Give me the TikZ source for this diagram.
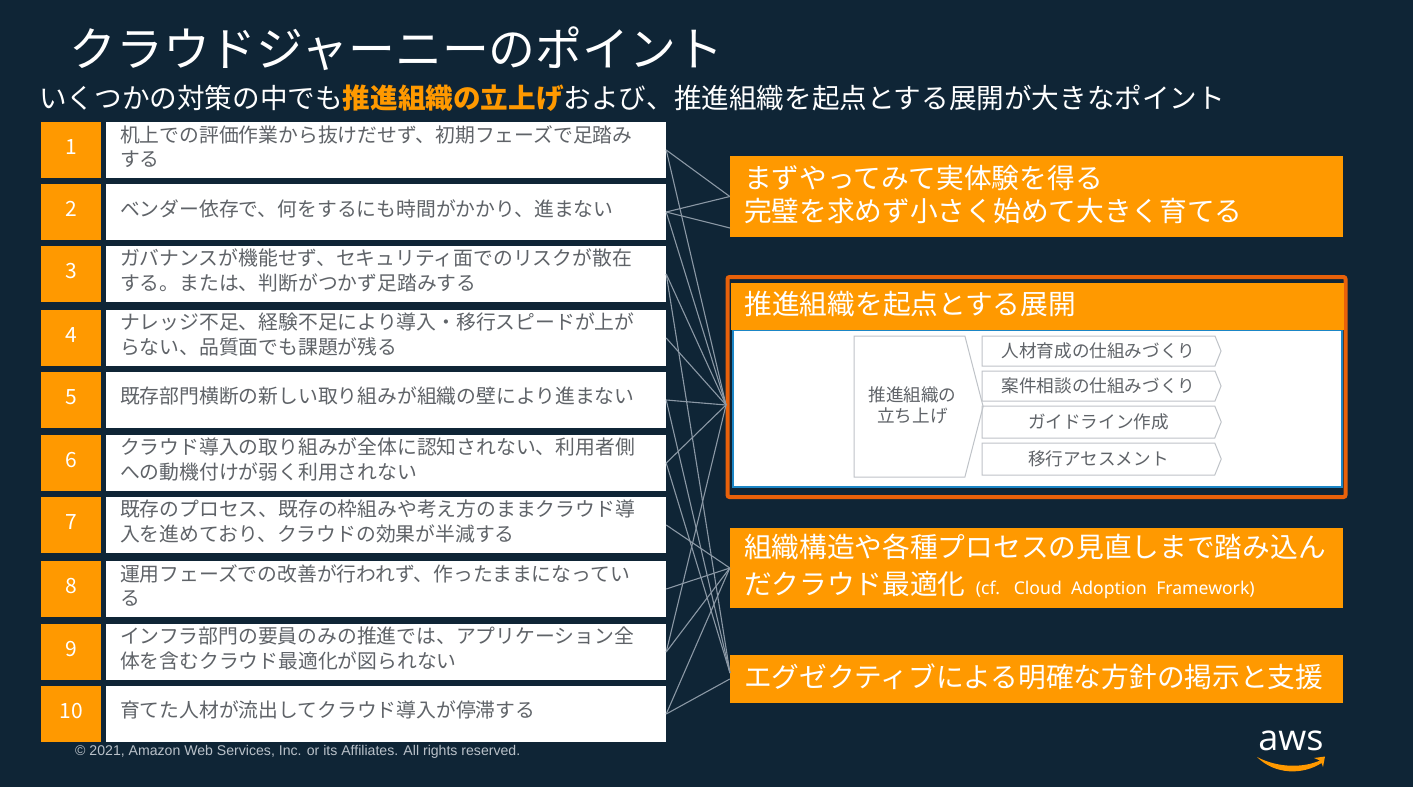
\documentclass[tikz,border=0pt]{standalone}
\usepackage{fontspec}
\setmainfont{Noto Sans CJK JP}
\usetikzlibrary{shapes.symbols}
\definecolor{awsnavy}{HTML}{0F2536}
\definecolor{awsorange}{HTML}{FF9900}
\definecolor{framered}{HTML}{E8610A}
\definecolor{frameblue}{HTML}{1B86C6}
\definecolor{rowgray}{HTML}{5F6368}
\definecolor{linkgray}{HTML}{8B98A5}
\definecolor{chevgray}{HTML}{BFC3C8}
\tikzset{
  numbox/.style={fill=awsorange, text=white, minimum width=60pt, minimum height=56pt, inner sep=0, text depth=6pt, font=\fontsize{21}{24}\selectfont},
  rowbox/.style={fill=white, text=rowgray, minimum height=56pt, text width=532pt, inner xsep=14pt, inner ysep=0, align=left, execute at end node={\par\vspace{7pt}}, font=\fontsize{19.8}{24.5}\selectfont},
  callout/.style={fill=awsorange, text=white, minimum width=613pt, text width=585pt, inner xsep=14pt, inner ysep=0, align=left, execute at end node={\par\vspace{4pt}}, font=\fontsize{27.7}{33}\selectfont},
  chev/.style={shape=signal, signal to=east, signal from=nowhere, draw=chevgray, line width=1pt, text=rowgray, minimum width=239pt, inner sep=0, signal pointer angle=136, font=\fontsize{17.6}{21}\selectfont},
  link/.style={draw=linkgray, line width=1.1pt},
}
\begin{document}
\begin{tikzpicture}[x=1pt, y=-1pt]
  \useasboundingbox (0, 0) rectangle (1413, 787);
  \fill[awsnavy] (0, 0) rectangle (1413, 787);

  \node[anchor=west, inner sep=0, text=white, font=\fontsize{46.9}{50}\selectfont] (title) at (69, 49) {クラウドジャーニーのポイント};
  \node[anchor=west, inner sep=0, text=white, font=\fontsize{27.6}{30}\selectfont] (subtitle) at (39, 98) {いくつかの対策の中でも\textcolor{awsorange}{\textbf{推進組織の立上げ}}および、推進組織を起点とする展開が大きなポイント};

  \node[numbox] (n1) at (71, 150) {1};
  \node[numbox] (n2) at (71, 212) {2};
  \node[numbox] (n3) at (71, 274) {3};
  \node[numbox] (n4) at (71, 338) {4};
  \node[numbox] (n5) at (71, 400) {5};
  \node[numbox] (n6) at (71, 463) {6};
  \node[numbox] (n7) at (71, 525) {7};
  \node[numbox] (n8) at (71, 589) {8};
  \node[numbox] (n9) at (71, 652) {9};
  \node[numbox] (n10) at (71, 714) {10};

  \node[rowbox] (r1) at (386, 150) {机上での評価作業から抜けだせず、初期フェーズで足踏み\\する};
  \node[rowbox] (r2) at (386, 212) {ベンダー依存で、何をするにも時間がかかり、進まない};
  \node[rowbox] (r3) at (386, 274) {ガバナンスが機能せず、セキュリティ面でのリスクが散在\\する。または、判断がつかず足踏みする};
  \node[rowbox] (r4) at (386, 338) {ナレッジ不足、経験不足により導入・移行スピードが上が\\らない、品質面でも課題が残る};
  \node[rowbox] (r5) at (386, 400) {既存部門横断の新しい取り組みが組織の壁により進まない};
  \node[rowbox] (r6) at (386, 463) {クラウド導入の取り組みが全体に認知されない、利用者側\\への動機付けが弱く利用されない};
  \node[rowbox] (r7) at (386, 525) {既存のプロセス、既存の枠組みや考え方のままクラウド導\\入を進めており、クラウドの効果が半減する};
  \node[rowbox] (r8) at (386, 589) {運用フェーズでの改善が行われず、作ったままになってい\\る};
  \node[rowbox] (r9) at (386, 652) {インフラ部門の要員のみの推進では、アプリケーション全\\体を含むクラウド最適化が図られない};
  \node[rowbox] (r10) at (386, 714) {育てた人材が流出してクラウド導入が停滞する};

  \node[callout, minimum height=81pt] (c1) at (1036.5, 196.5) {まずやってみて実体験を得る\\完璧を求めず小さく始めて大きく育てる};
  \node[callout, minimum height=80pt] (c3) at (1036.5, 568) {組織構造や各種プロセスの見直しまで踏み込ん\\[4pt]だクラウド最適化\ {\fontspec{Noto Sans}\fontsize{17.6}{20}\selectfont\hspace{1pt}(cf. Cloud Adoption Framework)}};
  \node[callout, minimum height=48pt] (c4) at (1036.5, 679) {エグゼクティブによる明確な方針の掲示と支援};

  \draw[framered, line width=4pt, rounded corners=2pt] (727.5, 277) rectangle (1345.5, 497);
  \draw[fill=white, draw=frameblue, line width=2pt] (733, 330) rectangle (1341.5, 487);
  \node[callout, minimum width=611pt, minimum height=47pt] (c2) at (1037, 306.5) {推進組織を起点とする展開};

  \node[shape=signal, signal to=east, signal from=nowhere, draw=chevgray, line width=1pt, inner sep=0, minimum width=129pt, minimum height=141pt, signal pointer angle=151] (setup) at (909.5, 406.5) {};
  \node[text=rowgray, inner sep=0, align=center, font=\fontsize{17.6}{21}\selectfont] (setuptext) at (912.5, 405) {推進組織の\\立ち上げ};
  \node[chev, minimum height=30pt] (s1) at (1098.5, 351) {人材育成の仕組みづくり};
  \node[chev, minimum height=30pt] (s2) at (1098.5, 386) {案件相談の仕組みづくり};
  \node[chev, minimum height=32pt] (s3) at (1098.5, 422) {ガイドライン作成};
  \node[chev, minimum height=32pt] (s4) at (1098.5, 459) {移行アセスメント};

  \coordinate (c1low) at (730, 228);
  \coordinate (hub) at (726, 405);
  \coordinate (c4up) at (730, 673);

  \draw[link] (r1.east) -- (c1.west);
  \draw[link] (r1.east) -- (hub);
  \draw[link] (r2.east) -- (c1.west);
  \draw[link] (r2.east) -- (c1low);
  \draw[link] (r2.east) -- (hub);
  \draw[link] (r3.east) -- (hub);
  \draw[link] (r3.east) -- (c4up);
  \draw[link] (r4.east) -- (hub);
  \draw[link] (r5.east) -- (hub);
  \draw[link] (r5.east) -- (c4up);
  \draw[link] (r6.east) -- (hub);
  \draw[link] (r6.east) -- (c4up);
  \draw[link] (r7.east) -- (c3.west);
  \draw[link] (r8.east) -- (c3.west);
  \draw[link] (r9.east) -- (hub);
  \draw[link] (r9.east) -- (c3.west);
  \draw[link] (r10.east) -- (c3.west);
  \draw[link] (r10.east) -- (c4.west);

  \node[anchor=west, inner sep=0, text=linkgray!60!white, font=\fontspec{Liberation Sans}\fontsize{14.1}{16}\selectfont] (legal) at (75, 752) {© 2021, Amazon Web Services, Inc. or its Affiliates. All rights reserved.};
  \node[inner sep=0, text=white, font=\fontspec{Open Sans}\fontsize{36}{40}\selectfont] (awsword) at (1291, 741) {aws};
  \fill[awsorange] (1257, 757) .. controls (1278, 768) and (1303, 768) .. (1320, 760.5) -- (1314, 758) -- (1325, 756.5) -- (1323, 767) -- (1321.5, 763) .. controls (1303, 775) and (1275, 775) .. (1257, 757) -- cycle;
\end{tikzpicture}
\end{document}
